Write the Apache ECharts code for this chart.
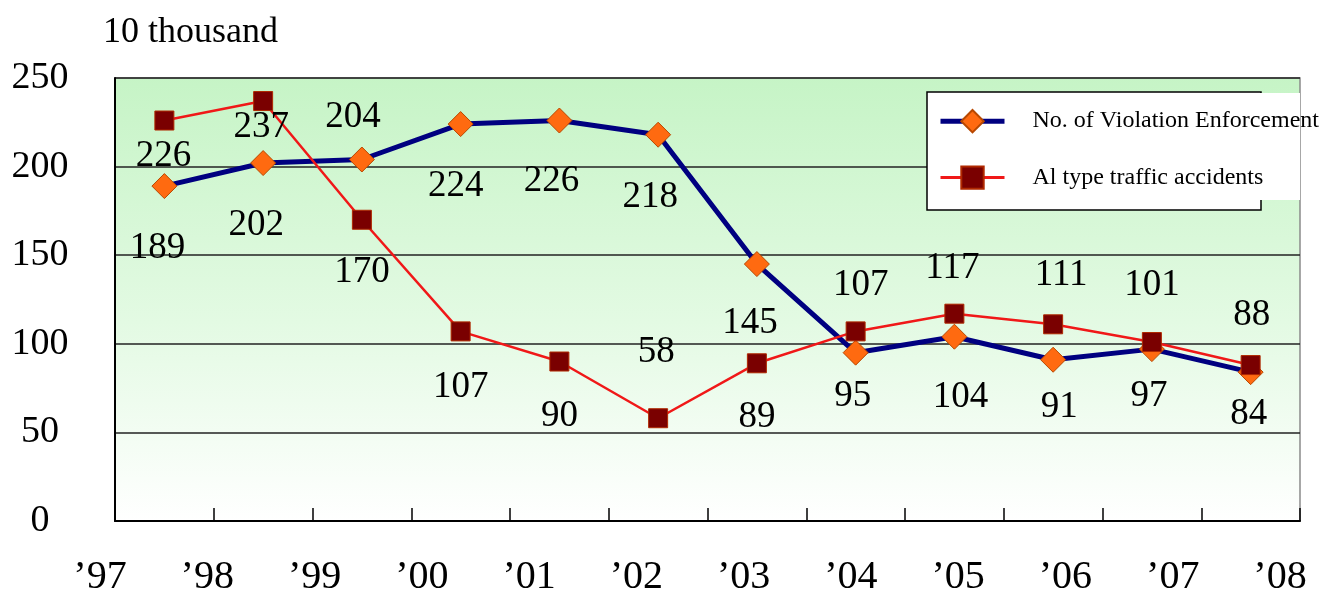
<!DOCTYPE html>
<html>
<head>
<meta charset="utf-8">
<script src="https://cdn.jsdelivr.net/npm/echarts@6/dist/echarts.min.js"></script>
<style>
  html, body { margin: 0; padding: 0; background: #ffffff; }
  #chart { width: 1335px; height: 597px; }
</style>
</head>
<body>
<div id="chart"></div>
<script>
// Year labels along the bottom axis
const yearLabels = ['’97', '’98', '’99', '’00', '’01', '’02', '’03', '’04', '’05', '’06', '’07', '’08'];
// Values in units of 10 thousand
const enforcement = [189, 202, 204, 224, 226, 218, 145, 95, 104, 91, 97, 84];
const accidents = [226, 237, 170, 107, 90, 58, 89, 107, 117, 111, 101, 88];
const seriesNames = ['No. of Violation Enforcement', 'Al type traffic accidents'];
const unitLabel = '10 thousand';

// Value-label placement relative to each marker, [dx, dy] in px
const enforcementLabelShift = [[-7, 62], [-7, 62], [-9, -42], [-5, 62], [-8, 61], [-8, 63], [-7, 59], [-3, 44], [6, 61], [6, 48], [-3, 47], [-2, 42]];
const accidentLabelShift = [[-1, 36], [-2, 26], [0, 53], [0, 56], [0, 55], [-2, -66], [0, 54], [5, -46], [-2, -45], [8, -49], [0, -57], [1, -50]];

const serif = 'Liberation Serif, Times New Roman, serif';
const chart = echarts.init(document.getElementById('chart'), null, { renderer: 'canvas' });

function withLabels(values, shifts) {
  return values.map((v, i) => ({ value: v, label: { offset: shifts[i] } }));
}

const valueLabel = {
  show: true,
  position: 'inside',
  color: '#000000',
  fontFamily: serif,
  fontSize: 37
};

chart.setOption({
  animation: false,
  backgroundColor: '#ffffff',
  title: {
    text: unitLabel,
    left: 103,
    top: 15,
    padding: 0,
    textStyle: { fontFamily: serif, fontSize: 36, fontWeight: 'normal', color: '#000000' }
  },
  // legend frame and the white panel behind the legend text
  graphic: [
    {
      type: 'rect', z: 10,
      shape: { x: 927, y: 92, width: 334, height: 118 },
      style: { fill: '#ffffff', stroke: '#000000', lineWidth: 1.5 }
    },
    {
      type: 'rect', z: 11,
      shape: { x: 1013, y: 93, width: 287, height: 107 },
      style: { fill: '#ffffff' }
    }
  ],
  legend: {
    orient: 'vertical',
    left: 927,
    top: 92,
    z: 20,
    padding: [17, 0, 0, 11],
    itemWidth: 64,
    itemHeight: 28,
    itemGap: 32,
    textStyle: {
      fontFamily: serif, fontSize: 24, color: '#000000',
      padding: [0, 0, 0, 23]
    },
    data: [
      { name: seriesNames[0], lineStyle: { color: '#000080', width: 5 } },
      { name: seriesNames[1], lineStyle: { color: '#f01818', width: 3 } }
    ]
  },
  grid: [
    {
      left: 115, right: 35, top: 78, bottom: 76,
      show: true,
      borderColor: '#8a8a8a',
      borderWidth: 1.5,
      backgroundColor: new echarts.graphic.LinearGradient(0, 0, 0, 1, [
        { offset: 0, color: '#c6f4c6' },
        { offset: 0.55, color: '#e3fae3' },
        { offset: 1, color: '#ffffff' }
      ])
    },
    { left: 100, right: 55, top: 78, bottom: 76 }
  ],
  xAxis: [
    {
      type: 'category',
      gridIndex: 0,
      data: yearLabels,
      boundaryGap: true,
      axisLine: { lineStyle: { color: '#000000', width: 2 } },
      axisTick: { show: true, inside: true, length: 13, lineStyle: { color: '#000000', width: 1.5 } },
      axisLabel: { show: false }
    },
    {
      type: 'category',
      gridIndex: 1,
      data: yearLabels,
      boundaryGap: false,
      axisLine: { show: false },
      axisTick: { show: false },
      axisLabel: {
        show: true, interval: 0, margin: 58, verticalAlign: 'middle',
        fontFamily: serif, fontSize: 40, color: '#000000'
      }
    }
  ],
  yAxis: [
    {
      type: 'value',
      gridIndex: 0,
      min: 0, max: 250, interval: 50,
      axisLine: { show: true, lineStyle: { color: '#000000', width: 2 } },
      axisTick: { show: false },
      splitLine: { show: true, lineStyle: { color: '#222222', width: 1.5 } },
      axisLabel: {
        margin: 75, align: 'center', verticalAlign: 'middle',
        padding: [14, 0, 0, 0],
        fontFamily: serif, fontSize: 38, color: '#000000'
      }
    },
    { type: 'value', gridIndex: 1, show: false }
  ],
  series: [
    {
      name: seriesNames[0],
      type: 'line',
      xAxisIndex: 0, yAxisIndex: 0,
      data: withLabels(enforcement, enforcementLabelShift),
      symbol: 'diamond',
      symbolSize: 25,
      lineStyle: { color: '#000080', width: 5 },
      itemStyle: { color: '#ff6a10', borderColor: '#b84800', borderWidth: 1 },
      label: valueLabel,
      z: 2
    },
    {
      name: seriesNames[1],
      type: 'line',
      xAxisIndex: 0, yAxisIndex: 0,
      data: withLabels(accidents, accidentLabelShift),
      symbol: 'rect',
      symbolSize: 19,
      lineStyle: { color: '#f01818', width: 2.5 },
      itemStyle: { color: '#7a0000', borderColor: '#b02800', borderWidth: 1 },
      label: valueLabel,
      z: 3
    }
  ]
});
</script>
</body>
</html>
